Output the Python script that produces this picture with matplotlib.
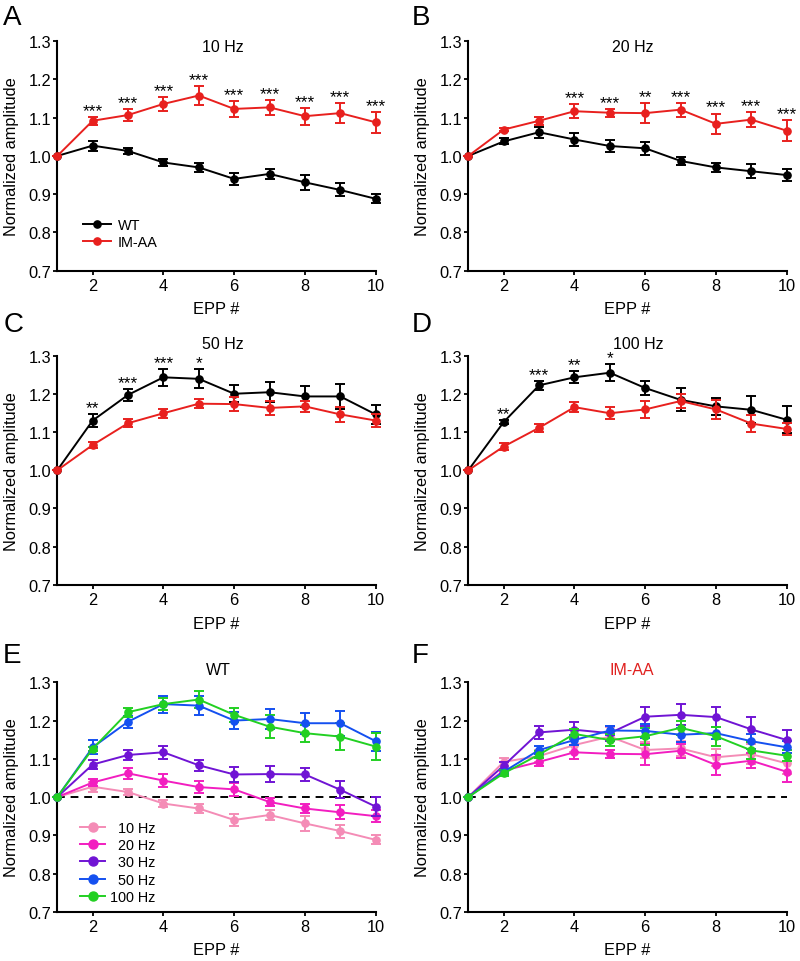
import matplotlib
matplotlib.use('Agg')
import matplotlib.pyplot as plt
import numpy as np

plt.rcParams['font.family'] = ['Liberation Sans', 'DejaVu Sans']

epp = list(range(1, 11))
xticks = [2, 4, 6, 8, 10]
yticks = [0.7, 0.8, 0.9, 1.0, 1.1, 1.2, 1.3]
ytick_labels = ['0.7', '0.8', '0.9', '1.0', '1.1', '1.2', '1.3']

# WT values per frequency
wt_10 = [1.0, 1.027, 1.013, 0.983, 0.970, 0.940, 0.953, 0.931, 0.911, 0.888]
wt_10_err = [0, 0.013, 0.007, 0.010, 0.012, 0.015, 0.013, 0.020, 0.017, 0.012]
wt_20 = [1.0, 1.038, 1.062, 1.043, 1.026, 1.020, 0.987, 0.970, 0.960, 0.950]
wt_20_err = [0, 0.008, 0.015, 0.018, 0.015, 0.017, 0.010, 0.012, 0.018, 0.015]
wt_30 = [1.0, 1.085, 1.110, 1.117, 1.083, 1.059, 1.060, 1.059, 1.019, 0.975]
wt_30_err = [0, 0.012, 0.013, 0.017, 0.015, 0.020, 0.020, 0.018, 0.022, 0.025]
wt_50 = [1.0, 1.130, 1.197, 1.243, 1.239, 1.200, 1.204, 1.193, 1.193, 1.146]
wt_50_err = [0, 0.018, 0.016, 0.022, 0.025, 0.022, 0.026, 0.028, 0.033, 0.025]
wt_100 = [1.0, 1.126, 1.222, 1.243, 1.255, 1.215, 1.184, 1.167, 1.158, 1.132]
wt_100_err = [0, 0.005, 0.012, 0.016, 0.022, 0.018, 0.030, 0.022, 0.035, 0.035]

# IM-AA values per frequency
aa_10 = [1.0, 1.092, 1.107, 1.136, 1.158, 1.123, 1.127, 1.104, 1.112, 1.088]
aa_10_err = [0, 0.011, 0.016, 0.018, 0.025, 0.020, 0.020, 0.022, 0.026, 0.027]
aa_20 = [1.0, 1.069, 1.092, 1.117, 1.113, 1.112, 1.121, 1.084, 1.095, 1.066]
aa_20_err = [0, 0.004, 0.010, 0.018, 0.010, 0.027, 0.018, 0.027, 0.020, 0.028]
aa_30 = [1.0, 1.082, 1.169, 1.176, 1.167, 1.210, 1.215, 1.209, 1.177, 1.149]
aa_30_err = [0, 0.010, 0.017, 0.020, 0.020, 0.025, 0.027, 0.027, 0.033, 0.025]
aa_50 = [1.0, 1.066, 1.123, 1.149, 1.174, 1.173, 1.163, 1.167, 1.146, 1.130]
aa_50_err = [0, 0.007, 0.010, 0.012, 0.012, 0.018, 0.018, 0.015, 0.020, 0.016]
aa_100 = [1.0, 1.062, 1.111, 1.165, 1.149, 1.159, 1.181, 1.159, 1.122, 1.108]
aa_100_err = [0, 0.008, 0.010, 0.013, 0.016, 0.022, 0.018, 0.025, 0.022, 0.015]

# significance marks per EPP (index 0 = EPP 1)
stars_10 = ['', '***', '***', '***', '***', '***', '***', '***', '***', '***']
stars_20 = ['', '', '', '***', '***', '**', '***', '***', '***', '***']
stars_50 = ['', '**', '***', '***', '*', '', '', '', '', '']
stars_100 = ['', '**', '***', '**', '*', '', '', '', '', '']

freq_labels = ['10 Hz', '20 Hz', '30 Hz', '50 Hz', '100 Hz']
freq_colors = ['#F48CB6', '#F21EC0', '#7014D4', '#1450F0', '#22D022']
WT_COLOR = 'black'
AA_COLOR = '#E8201E'

FS = 11.8
TFS = 11.5
LFS = 10.4
SFS = 12.5

fig = plt.figure(figsize=(8, 9.62), dpi=100)

W = 0.398
H = 0.2385
lefts = [0.0716, 0.5854]
bottoms = [0.7176, 0.3909, 0.0512]


def style_axes(ax):
    ax.set_xlim(1, 10)
    ax.set_ylim(0.7, 1.3)
    ax.set_xticks(xticks)
    ax.set_yticks(yticks)
    ax.set_yticklabels(ytick_labels)
    for s in ['top', 'right']:
        ax.spines[s].set_visible(False)
    for s in ['left', 'bottom']:
        ax.spines[s].set_linewidth(1.5)
    ax.tick_params(axis='both', direction='out', length=2.6, width=1.3,
                   labelsize=FS)
    ax.tick_params(axis='x', pad=2.5)
    ax.tick_params(axis='y', pad=1.7)
    ax.set_ylabel('Normalized amplitude', fontsize=FS)
    ax.set_xlabel('EPP #', fontsize=FS)
    ax.yaxis.label.set_va('center')
    ax.xaxis.label.set_va('center')
    ax.yaxis.set_label_coords(-0.145, 0.5)
    ax.xaxis.set_label_coords(0.5, -0.166)


def draw(ax, y, e, color, label=None, z=3):
    c = ax.errorbar(epp, y, yerr=e, color=color, lw=1.4, elinewidth=1.4,
                    capsize=3.5, capthick=1.4, marker='o', ms=5.2,
                    clip_on=False, zorder=z, label=label)
    return c.lines[0]


def add_stars(ax, y, e, stars):
    for xi, yi, ei, s in zip(epp, y, e, stars):
        if s:
            ax.text(xi, yi + ei + 0.005, s, ha='center', va='baseline',
                    fontsize=SFS, clip_on=False)


axes = {}
for letter, (li, bi) in zip('ABCDEF', [(0, 0), (1, 0), (0, 1), (1, 1), (0, 2), (1, 2)]):
    ax = fig.add_axes([lefts[li], bottoms[bi], W, H])
    style_axes(ax)
    axes[letter] = ax

# A: 10 Hz
ax = axes['A']
h_wt = draw(ax, wt_10, wt_10_err, WT_COLOR)
h_aa = draw(ax, aa_10, aa_10_err, AA_COLOR, z=4)
add_stars(ax, aa_10, aa_10_err, stars_10)
ax.text(0.52, 0.975, '10 Hz', transform=ax.transAxes, ha='center', va='center', fontsize=TFS)
ax.legend([h_wt, h_aa], ['WT', 'IM-AA'], loc='upper left',
          bbox_to_anchor=(0.081, 0.228), frameon=False,
          fontsize=LFS, handlelength=1.9, handletextpad=0.5, labelspacing=0.2,
          borderpad=0, borderaxespad=0)

# B: 20 Hz
ax = axes['B']
draw(ax, wt_20, wt_20_err, WT_COLOR)
draw(ax, aa_20, aa_20_err, AA_COLOR, z=4)
add_stars(ax, aa_20, aa_20_err, stars_20)
ax.text(0.517, 0.975, '20 Hz', transform=ax.transAxes, ha='center', va='center', fontsize=TFS)

# C: 50 Hz
ax = axes['C']
draw(ax, wt_50, wt_50_err, WT_COLOR)
draw(ax, aa_50, aa_50_err, AA_COLOR, z=4)
add_stars(ax, wt_50, wt_50_err, stars_50)
ax.text(0.52, 1.051, '50 Hz', transform=ax.transAxes, ha='center', va='center', fontsize=TFS)

# D: 100 Hz
ax = axes['D']
draw(ax, wt_100, wt_100_err, WT_COLOR)
draw(ax, aa_100, aa_100_err, AA_COLOR, z=4)
add_stars(ax, wt_100, wt_100_err, stars_100)
ax.text(0.533, 1.051, '100 Hz', transform=ax.transAxes, ha='center', va='center', fontsize=TFS)

# E: WT all frequencies
ax = axes['E']
ax.axhline(1.0, color='black', lw=1.4, ls=(0, (4, 3)), zorder=2)
wt_sets = [(wt_10, wt_10_err), (wt_20, wt_20_err), (wt_30, wt_30_err),
           (wt_50, wt_50_err), (wt_100, wt_100_err)]
hmap = {}
for i in [0, 1, 2, 4, 3]:
    y, e = wt_sets[i]
    hmap[i] = draw(ax, y, e, freq_colors[i], z=3 + i * 0.1)
leg_labels = ['\u200710 Hz', '\u200720 Hz', '\u200730 Hz', '\u200750 Hz', '100 Hz']
ax.legend([hmap[i] for i in range(5)], leg_labels, loc='upper left',
          bbox_to_anchor=(0.071, 0.395), frameon=False, fontsize=LFS,
          handlelength=1.75, handletextpad=0.35, labelspacing=0.22,
          borderpad=0, borderaxespad=0, markerscale=1.25)
ax.text(0.505, 1.058, 'WT', transform=ax.transAxes, ha='center', va='center', fontsize=TFS)

# F: IM-AA all frequencies
ax = axes['F']
ax.axhline(1.0, color='black', lw=1.4, ls=(0, (4, 3)), zorder=2)
aa_sets = [(aa_10, aa_10_err), (aa_20, aa_20_err), (aa_30, aa_30_err),
           (aa_50, aa_50_err), (aa_100, aa_100_err)]
for i in [0, 1, 4, 3, 2]:
    y, e = aa_sets[i]
    draw(ax, y, e, freq_colors[i], z=3 + i * 0.1)
ax.text(0.513, 1.058, 'IM-AA', transform=ax.transAxes, ha='center', va='center',
        fontsize=TFS, color='#E0201E')

# panel letters
letter_pos = {'A': (0.004, 0.974), 'B': (0.515, 0.974),
              'C': (0.004, 0.655), 'D': (0.515, 0.655),
              'E': (0.004, 0.3108), 'F': (0.515, 0.3108)}
for k, (x, y) in letter_pos.items():
    fig.text(x, y, k, fontsize=20, ha='left', va='baseline')

fig.savefig('out.png', dpi=100)
